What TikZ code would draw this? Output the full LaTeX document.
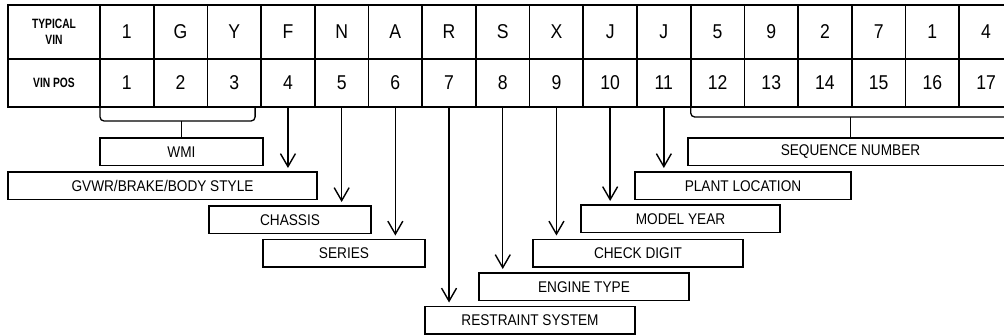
\documentclass[tikz,border=0pt]{standalone}
\usepackage{fontspec}
\setmainfont{Liberation Sans}[FakeStretch=0.88]
\newfontfamily\lblfont{Liberation Sans}[FakeStretch=0.76]
\usetikzlibrary{arrows.meta}
\begin{document}
\begin{tikzpicture}[x=1pt,y=-1pt,
  cell/.style={draw, line width=1.7pt, minimum width=53.7pt, inner sep=0pt, outer sep=0pt, font=\fontsize{20}{20}\selectfont},
  rowa/.style={cell, minimum height=54pt},
  rowb/.style={cell, minimum height=48pt},
  lbl/.style={font=\lblfont\bfseries\fontsize{13.5}{16}\selectfont, align=center},
  box/.style={draw, line width=1.7pt, minimum height=27.5pt, inner sep=0pt, outer sep=0pt, anchor=north west, font=\fontsize{15.5}{15.5}\selectfont},
  arr/.style={line width=1.4pt, -{Straight Barb[length=13pt,width=15pt]}},
  brk/.style={line width=1.3pt, rounded corners=4pt}]
\useasboundingbox (0,0) rectangle (1004,335);
\clip (0,0) rectangle (1004,335);
% table
\node[rowa, minimum width=92pt, lbl] (v0) at (54,32) {TYPICAL\\VIN};
\node[rowb, minimum width=92pt, lbl] (p0) at (54,83) {VIN POS};
\foreach \ch [count=\i] in {1,G,Y,F,N,A,R,S,X,J,J,5,9,2,7,1,4}
  \node[rowa] (v\i) at ({100+53.7*(\i-0.5)},32) {\ch};
\foreach \i in {1,...,17}
  \node[rowb] (p\i) at ({100+53.7*(\i-0.5)},83) {\i};
% boxes
\node[box, minimum width=163pt] (wmi) at (100,138) {WMI};
\node[box, minimum width=325pt] (seq) at (688,138) {SEQUENCE NUMBER};
\node[box, minimum width=309pt] (gvwr) at (8,172) {GVWR/BRAKE/BODY STYLE};
\node[box, minimum width=216pt] (plant) at (635,172) {PLANT LOCATION};
\node[box, minimum width=162pt] (chassis) at (209,206) {CHASSIS};
\node[box, minimum width=199pt] (model) at (581,205) {MODEL YEAR};
\node[box, minimum width=162pt] (series) at (263,239.5) {SERIES};
\node[box, minimum width=210pt] (check) at (533,239.5) {CHECK DIGIT};
\node[box, minimum width=210pt] (engine) at (479,273) {ENGINE TYPE};
\node[box, minimum width=210pt] (restraint) at (425,306.5) {RESTRAINT SYSTEM};
% arrows
\foreach \i/\b in {4/gvwr,5/chassis,6/series,7/restraint,8/engine,9/check,10/model,11/plant}
  \draw[arr] (p\i.south) -- ([yshift=4pt]p\i.south |- \b.north);
% brackets
\draw[brk] (p1.south west) |- ([xshift=-6pt,yshift=-14pt]p3.south east) -- ([xshift=-6pt]p3.south east);
\draw[line width=1.3pt] (wmi.north) -- ([yshift=-14pt]wmi.north |- p1.south);
\draw[brk] (p12.south west) |- ([xshift=-3pt,yshift=-10pt]p17.south east) -- ([xshift=-3pt]p17.south east);
\draw[line width=1.3pt] (seq.north) -- ([yshift=-10pt]seq.north |- p12.south);
\end{tikzpicture}
\end{document}
